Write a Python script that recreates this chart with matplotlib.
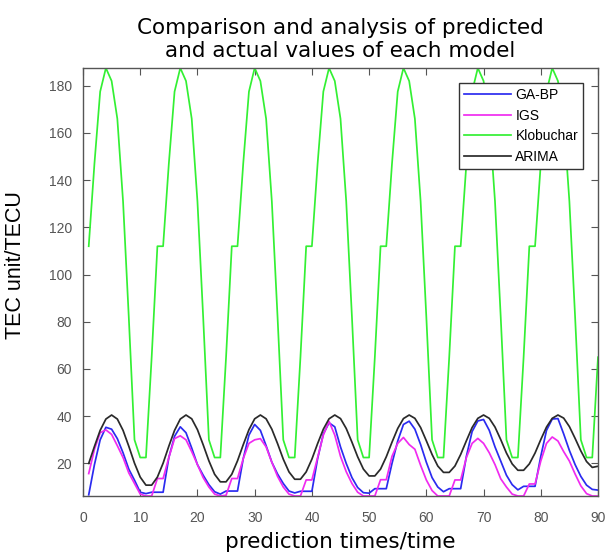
import matplotlib
matplotlib.use("Agg")
import matplotlib.pyplot as plt

x = list(range(1, 91))

ga_bp = [6.7, 19.5, 30.0, 35.3, 34.5, 30.5, 24.5, 17.6, 12.9, 7.8, 7.2, 7.8, 7.8,
         7.8, 22.5, 31.5, 35.5, 33.0, 26.5, 19.5, 15.0, 11.0, 8.0, 7.0, 8.3, 8.3,
         8.3, 22.0, 32.0, 36.5, 34.0, 27.5, 20.5, 15.5, 11.5, 8.3, 7.5, 8.2, 8.2,
         8.2, 22.0, 32.5, 37.2, 35.5, 27.0, 20.0, 14.0, 9.8, 7.6, 7.4, 9.3, 9.3,
         9.3, 20.0, 29.5, 36.5, 37.9, 34.5, 28.0, 20.5, 14.0, 10.0, 8.0, 9.3, 9.3,
         9.3, 23.0, 33.5, 38.0, 38.6, 34.0, 27.0, 21.0, 15.0, 11.0, 8.8, 10.3, 10.3,
         10.3, 23.0, 34.0, 38.8, 39.0, 32.5, 25.5, 19.5, 14.5, 10.8, 9.0, 8.7]

igs = [15.7, 26.0, 33.0, 34.2, 32.3, 27.5, 22.5, 16.0, 11.5, 7.0, 6.2, 6.2, 13.6,
       13.6, 22.5, 30.5, 31.7, 30.0, 25.0, 19.5, 14.0, 10.0, 7.0, 6.2, 6.5, 13.6,
       13.6, 22.0, 28.5, 30.0, 30.5, 27.0, 20.5, 14.5, 10.0, 7.0, 6.2, 6.2, 13.0,
       13.0, 22.5, 32.0, 37.8, 32.0, 23.0, 16.5, 11.5, 7.8, 6.2, 6.2, 6.2, 13.1,
       13.1, 23.0, 28.5, 31.0, 28.0, 26.0, 19.2, 13.0, 8.5, 6.2, 6.2, 6.2, 13.0,
       13.0, 22.5, 28.5, 30.6, 28.5, 24.5, 19.5, 13.5, 10.0, 7.0, 6.2, 6.2, 11.3,
       11.3, 21.0, 28.5, 31.2, 29.5, 25.0, 21.0, 15.5, 10.5, 7.2, 6.2, 6.2]

klobuchar = [112, 147, 177.5, 187.5, 182, 166, 131, 82, 30, 22.5, 22.5, 65, 112,
             112, 147, 177.5, 187.5, 182, 166, 131, 82, 30, 22.5, 22.5, 65, 112,
             112, 147, 177.5, 187.5, 182, 166, 131, 82, 30, 22.5, 22.5, 65, 112,
             112, 147, 177.5, 187.5, 182, 166, 131, 82, 30, 22.5, 22.5, 65, 112,
             112, 147, 177.5, 187.5, 182, 166, 131, 82, 30, 22.5, 22.5, 65, 112,
             112, 147, 177.5, 187.5, 182, 166, 131, 82, 30, 22.5, 22.5, 65, 112,
             112, 147, 177.5, 187.5, 182, 166, 131, 82, 30, 22.5, 22.5, 65]

arima = [20.0, 27.2, 34.0, 38.8, 40.5, 38.8, 34.0, 27.3, 20.1, 14.2, 10.8, 10.8, 14.2,
         20.1, 27.3, 34.0, 38.8, 40.5, 38.9, 34.3, 27.9, 21.1, 15.4, 12.2, 12.2, 15.4,
         21.1, 27.9, 34.3, 38.9, 40.5, 38.9, 34.5, 28.4, 21.8, 16.4, 13.3, 13.3, 16.4,
         21.8, 28.4, 34.5, 38.9, 40.5, 39.0, 34.8, 29.0, 22.8, 17.6, 14.7, 14.7, 17.6,
         22.8, 29.0, 34.8, 39.0, 40.5, 39.1, 35.2, 29.6, 23.8, 18.9, 16.2, 16.2, 18.9,
         23.8, 29.6, 35.2, 39.1, 40.5, 39.1, 35.4, 30.1, 24.4, 19.8, 17.1, 17.1, 19.8,
         24.4, 30.1, 35.4, 39.1, 40.5, 39.2, 35.6, 30.6, 25.3, 20.8, 18.3, 18.8]

labels = ["GA-BP", "IGS", "Klobuchar", "ARIMA"]
colors = ["#2b2bf0", "#f02bf0", "#33f033", "#2a2a2a"]
xticks = list(range(0, 91, 10))
yticks = list(range(20, 181, 20))
title = "Comparison and analysis of predicted\nand actual values of each model"
xlabel = "prediction times/time"
ylabel = "TEC unit/TECU"

fig = plt.figure(figsize=(6.05, 5.59), dpi=100)
ax = fig.add_axes([83 / 605, 1 - 496 / 559, (598 - 83) / 605, (496 - 68) / 559])

for series, lab, col in zip([ga_bp, igs, klobuchar, arima], labels, colors):
    ax.plot(x, series, color=col, lw=1.25, label=lab)

ax.set_xlim(0, 90)
ax.set_ylim(6.2, 187.5)
ax.set_xticks(xticks)
ax.set_yticks(yticks)
ax.tick_params(direction="in", top=True, right=True, length=5, width=0.8,
               colors="#555555", labelsize=10, pad=8)
ax.tick_params(axis="x", pad=10.5)
for lab in ax.get_xticklabels() + ax.get_yticklabels():
    lab.set_fontfamily("Liberation Sans")
for sp in ax.spines.values():
    sp.set_color("#555555")
    sp.set_linewidth(1.0)

ax.set_title(title, fontsize=15.5, family="DejaVu Sans", pad=8, linespacing=1.15)
ax.set_xlabel(xlabel, fontsize=15.5, family="DejaVu Sans", labelpad=5)
ax.set_ylabel(ylabel, fontsize=15.5, family="Liberation Sans")
ax.yaxis.set_label_coords(-0.11, 0.54)

leg = ax.legend(loc="upper right", bbox_to_anchor=(0.971, 0.965), borderaxespad=0,
                fancybox=False, framealpha=1, edgecolor="#333333", handlelength=3.4,
                handletextpad=0.3, labelspacing=0.48, borderpad=0.35,
                prop={"family": "Liberation Sans", "size": 10})
leg.get_frame().set_linewidth(1.0)

fig.savefig("out.png", dpi=100)
